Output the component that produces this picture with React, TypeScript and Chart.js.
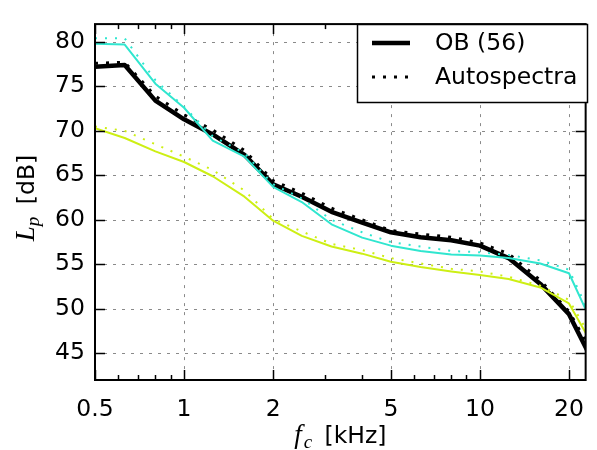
import React, { useEffect, useRef } from "react";
import { Chart, registerables } from "chart.js";

Chart.register(...registerables);

// ---- data (kHz / dB) ----
const freqs = [0.5, 0.63, 0.8, 1, 1.25, 1.6, 2, 2.5, 3.15, 4, 5, 6.3, 8, 10, 12.5, 16, 20, 25];
const obBlack = [77.2, 77.4, 73.4, 71.3, 69.6, 67.3, 64.0, 62.6, 60.9, 59.7, 58.6, 58.05, 57.7, 57.1, 55.7, 52.8, 49.4, 43.0];
const autoBlack = [77.6, 77.7, 73.9, 71.8, 70.1, 67.8, 64.4, 63.0, 61.3, 60.0, 58.8, 58.4, 58.05, 57.4, 56.2, 53.2, 49.7, 44.0];
const obCyan = [79.8, 79.7, 75.3, 72.6, 68.9, 67.1, 63.7, 62.0, 59.5, 58.0, 57.1, 56.5, 56.1, 56.0, 55.7, 55.1, 54.0, 47.0];
const autoCyan = [80.4, 80.4, 75.7, 72.7, 69.4, 67.5, 64.0, 62.4, 60.0, 58.6, 57.5, 57.0, 56.5, 56.35, 56.05, 55.45, 54.4, 47.5];
const obYellow = [70.3, 69.2, 67.7, 66.5, 64.9, 62.6, 59.9, 58.2, 57.0, 56.2, 55.3, 54.7, 54.2, 53.8, 53.35, 52.4, 50.6, 44.9];
const autoYellow = [70.5, 70.0, 68.5, 67.1, 65.6, 63.3, 60.1, 58.7, 57.3, 56.6, 55.7, 55.1, 54.5, 54.2, 53.6, 52.6, 51.0, 45.5];

const xTicks = [0.5, 1, 2, 5, 10, 20];
const xMinorTicks = [0.6, 0.7, 0.8, 0.9, 3, 4, 6, 7, 8, 9];
const yTicks = [45, 50, 55, 60, 65, 70, 75, 80];
const X_MIN = 0.5;
const X_MAX = 22.77;
const Y_MIN = 42;
const Y_MAX = 82;

const legendLabels = ["OB (56)", "Autospectra"];

const CYAN = "#30e6cf";
const YELLOW = "#cdef14";
const FS = 23.5;
const TICK_FONT = { family: "'DejaVu Sans'", size: FS };

const pts = (vals: number[]) => freqs.map((f, i) => ({ x: f, y: vals[i] }));

const decorPlugin = {
  id: "mplDecor",
  beforeDatasetsDraw(chart: any) {
    const { ctx, chartArea: a, scales } = chart;
    ctx.save();
    ctx.strokeStyle = "#8a8a8a";
    ctx.lineWidth = 1;
    ctx.setLineDash([3, 6]);
    for (const v of xTicks) {
      if (v === X_MIN) continue;
      const x = Math.round(scales.x.getPixelForValue(v)) + 0.5;
      ctx.beginPath();
      ctx.moveTo(x, a.top);
      ctx.lineTo(x, a.bottom);
      ctx.stroke();
    }
    for (const v of yTicks) {
      const y = Math.round(scales.y.getPixelForValue(v)) + 0.5;
      ctx.beginPath();
      ctx.moveTo(a.left, y);
      ctx.lineTo(a.right, y);
      ctx.stroke();
    }
    ctx.restore();
  },
  afterDatasetsDraw(chart: any) {
    const { ctx, chartArea: a, scales } = chart;
    ctx.save();
    ctx.setLineDash([]);
    ctx.strokeStyle = "#000";
    ctx.lineWidth = 1.5;
    const tick = (x1: number, y1: number, x2: number, y2: number) => {
      ctx.beginPath();
      ctx.moveTo(x1, y1);
      ctx.lineTo(x2, y2);
      ctx.stroke();
    };
    for (const v of xTicks) {
      const x = Math.round(scales.x.getPixelForValue(v)) + 0.5;
      tick(x, a.bottom, x, a.bottom - 10);
      tick(x, a.top, x, a.top + 10);
    }
    for (const v of xMinorTicks) {
      const x = Math.round(scales.x.getPixelForValue(v)) + 0.5;
      tick(x, a.bottom, x, a.bottom - 5);
      tick(x, a.top, x, a.top + 5);
    }
    for (const v of yTicks) {
      const y = Math.round(scales.y.getPixelForValue(v)) + 0.5;
      tick(a.left, y, a.left + 10, y);
      tick(a.right, y, a.right - 10, y);
    }
    ctx.lineWidth = 2;
    ctx.strokeRect(a.left, a.top, a.right - a.left, a.bottom - a.top);

    // legend
    const lx = 357, ly = 24, lw = 230, lh = 78;
    ctx.fillStyle = "#fff";
    ctx.fillRect(lx, ly, lw, lh);
    ctx.lineWidth = 1.5;
    ctx.strokeRect(lx + 0.5, ly + 0.5, lw, lh);
    ctx.lineWidth = 4.5;
    ctx.beginPath();
    ctx.moveTo(372, 43);
    ctx.lineTo(410, 43);
    ctx.stroke();
    ctx.lineWidth = 3;
    ctx.setLineDash([3, 8]);
    ctx.lineCap = "butt";
    ctx.beginPath();
    ctx.moveTo(372, 77);
    ctx.lineTo(410, 77);
    ctx.stroke();
    ctx.setLineDash([]);
    ctx.fillStyle = "#000";
    ctx.font = `${FS}px 'DejaVu Sans'`;
    ctx.textBaseline = "middle";
    ctx.textAlign = "left";
    ctx.fillText(legendLabels[0], 435, 44);
    ctx.fillText(legendLabels[1], 435, 78);

    // axis titles
    const mathFont = "italic 27px 'Liberation Serif'";
    const subFont = "italic 19px 'Liberation Serif'";
    const txtFont = `${FS}px 'DejaVu Sans'`;
    const gap = 5;
    ctx.textBaseline = "alphabetic";
    {
      ctx.font = mathFont;
      const w1 = ctx.measureText("f").width;
      ctx.font = subFont;
      const w2 = ctx.measureText("c").width;
      ctx.font = txtFont;
      const w3 = ctx.measureText(" [kHz]").width;
      const total = w1 + 2 + w2 + gap + w3;
      let x = (a.left + a.right) / 2 - total / 2;
      const base = 443;
      ctx.font = mathFont;
      ctx.fillText("f", x, base);
      x += w1 + 2;
      ctx.font = subFont;
      ctx.fillText("c", x, base + 5);
      x += w2 + gap;
      ctx.font = txtFont;
      ctx.fillText(" [kHz]", x, base);
    }
    {
      ctx.save();
      ctx.translate(34, 198);
      ctx.rotate(-Math.PI / 2);
      ctx.font = mathFont;
      const w1 = ctx.measureText("L").width;
      ctx.font = subFont;
      const w2 = ctx.measureText("p").width;
      ctx.font = txtFont;
      const w3 = ctx.measureText(" [dB]").width;
      const total = w1 + w2 + gap + w3;
      let x = -total / 2;
      ctx.font = mathFont;
      ctx.fillText("L", x, 0);
      x += w1;
      ctx.font = subFont;
      ctx.fillText("p", x, 5);
      x += w2 + gap;
      ctx.font = txtFont;
      ctx.fillText(" [dB]", x, 0);
      ctx.restore();
    }
    ctx.restore();
  },
};

export default function App() {
  const ref = useRef<HTMLCanvasElement>(null);
  useEffect(() => {
    if (!ref.current) return;
    const chart = new Chart(ref.current, {
      type: "line",
      data: {
        datasets: [
          { label: "yellow auto", data: pts(autoYellow), borderColor: YELLOW, borderWidth: 2, borderDash: [2, 8] },
          { label: "yellow OB", data: pts(obYellow), borderColor: YELLOW, borderWidth: 2 },
          { label: "cyan auto", data: pts(autoCyan), borderColor: CYAN, borderWidth: 2, borderDash: [2, 8] },
          { label: "cyan OB", data: pts(obCyan), borderColor: CYAN, borderWidth: 2 },
          { label: "Autospectra", data: pts(autoBlack), borderColor: "#000", borderWidth: 3, borderDash: [3, 8] },
          { label: "OB (56)", data: pts(obBlack), borderColor: "#000", borderWidth: 4.5 },
        ] as any,
      },
      options: {
        responsive: false,
        animation: false,
        devicePixelRatio: 1,
        layout: { padding: { top: 12, right: 2, left: 0, bottom: 0 } },
        plugins: { legend: { display: false }, tooltip: { enabled: false } },
        elements: { point: { radius: 0 }, line: { tension: 0, borderCapStyle: "butt", borderJoinStyle: "round" } },
        scales: {
          x: {
            type: "logarithmic",
            min: X_MIN,
            max: X_MAX,
            afterBuildTicks: (s: any) => {
              s.ticks = xTicks.map((v) => ({ value: v }));
            },
            afterFit: (s: any) => {
              s.height = 70;
            },
            grid: { display: false, drawTicks: false },
            border: { display: false },
            ticks: {
              autoSkip: false,
              maxRotation: 0,
              padding: 16,
              color: "#000",
              font: TICK_FONT,
              callback: (v: any) => String(v),
            },
          },
          y: {
            type: "linear",
            min: Y_MIN,
            max: Y_MAX,
            afterBuildTicks: (s: any) => {
              s.ticks = yTicks.map((v) => ({ value: v }));
            },
            afterFit: (s: any) => {
              s.width = 95;
            },
            grid: { display: false, drawTicks: false },
            border: { display: false },
            ticks: {
              padding: 10,
              color: "#000",
              font: TICK_FONT,
              callback: (v: any) => String(v),
            },
          },
        },
      } as any,
      plugins: [decorPlugin],
    });
    return () => chart.destroy();
  }, []);
  return (
    <div style={{ position: "absolute", left: 0, top: 0, width: 597, height: 450, overflow: "hidden", background: "#fff" }}>
      <canvas ref={ref} width={600} height={450} style={{ display: "block", width: 600, height: 450 }} />
    </div>
  );
}
